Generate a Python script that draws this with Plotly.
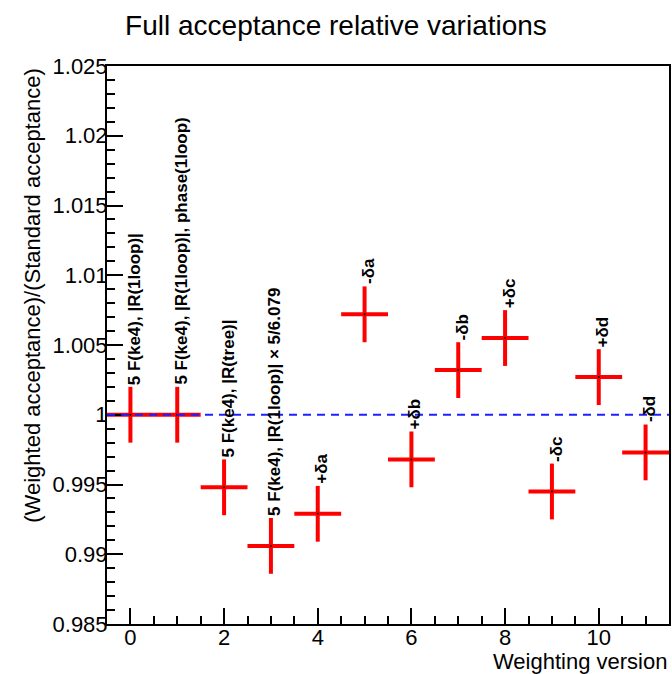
import plotly.graph_objects as go

# Weighting versions and relative acceptance values
versions = [0, 1, 2, 3, 4, 5, 6, 7, 8, 9, 10, 11]
ratios = [1.0000, 1.0000, 0.9948, 0.9906, 0.9929, 1.0072,
          0.9968, 1.0032, 1.0055, 0.9945, 1.0027, 0.9973]
x_err = [0.5] * 12
y_err = [0.002] * 12
point_labels = [
    "5 F(ke4), |R(1loop)|",
    "5 F(ke4), |R(1loop)|, phase(1loop)",
    "5 F(ke4), |R(tree)|",
    "5 F(ke4), |R(1loop)| × 5/6.079",
    "+δa", "-δa", "+δb", "-δb", "+δc", "-δc", "+δd", "-δd",
]
y_tick_vals = [0.985, 0.99, 0.995, 1.0, 1.005, 1.01, 1.015, 1.02, 1.025]
y_tick_text = ["0.985", "0.99", "0.995", "1", "1.005", "1.01", "1.015", "1.02", "1.025"]
x_tick_vals = [0, 2, 4, 6, 8, 10]
reference_level = 1.0

FONT = "Liberation Sans, Arial, Helvetica, sans-serif"

fig = go.Figure()

fig.add_trace(go.Scatter(
    x=versions, y=ratios,
    mode="markers",
    marker=dict(color="black", size=2),
    error_x=dict(type="data", array=x_err, color="#ff0000", thickness=4, width=0),
    error_y=dict(type="data", array=y_err, color="#ff0000", thickness=4, width=0),
    showlegend=False,
    hoverinfo="skip",
))

# dashed reference line at unity
fig.add_shape(type="line", xref="x", yref="y",
              x0=-0.5, x1=11.5, y0=reference_level, y1=reference_level,
              line=dict(color="#2020ff", width=2, dash="8px,6px"), layer="above")

# rotated labels above each point
for xv, yv, ye, txt in zip(versions, ratios, y_err, point_labels):
    fig.add_annotation(x=xv, y=yv + ye, xref="x", yref="y",
                       text=txt, textangle=-90, showarrow=False,
                       xanchor="center", yanchor="bottom", xshift=4, yshift=0,
                       font=dict(family=FONT, size=17, color="black", weight="bold"))

# y axis title aligned to the top of the frame
fig.add_annotation(x=-0.133, y=1.0, xref="paper", yref="paper",
                   text="(Weighted acceptance)/(Standard acceptance)",
                   textangle=-90, showarrow=False, xanchor="center", yanchor="top",
                   font=dict(family=FONT, size=22, color="black"))

# x axis title aligned to the right edge
fig.add_annotation(x=1.0, y=-0.042, xref="paper", yref="paper",
                   text="Weighting version", showarrow=False,
                   xanchor="right", yanchor="top",
                   font=dict(family=FONT, size=22, color="black"))

fig.update_layout(
    width=672, height=674,
    margin=dict(l=107, r=1, t=66, b=50),
    paper_bgcolor="white", plot_bgcolor="white",
    title=dict(text="Full acceptance relative variations", x=0.5, xref="container",
               xanchor="center", y=0.962, yanchor="middle",
               font=dict(family=FONT, size=28, color="black")),
    font=dict(family=FONT, color="black"),
)

fig.update_xaxes(
    range=[-0.5, 11.5], tickvals=x_tick_vals, ticks="inside", ticklen=16, tickwidth=2,
    tickcolor="black", showgrid=False, zeroline=False,
    showline=True, linecolor="black", linewidth=2, mirror=True,
    tickfont=dict(family=FONT, size=22, color="black"), ticklabelstandoff=-7,
    minor=dict(dtick=0.5, tick0=0, ticks="inside", ticklen=8, tickwidth=2,
               tickcolor="black", showgrid=False),
)
fig.update_yaxes(
    range=[0.985, 1.025], tickvals=y_tick_vals, ticktext=y_tick_text,
    ticks="inside", ticklen=16, tickwidth=2,
    tickcolor="black", showgrid=False, zeroline=False,
    showline=True, linecolor="black", linewidth=2, mirror=True,
    tickfont=dict(family=FONT, size=22, color="black"), ticklabelstandoff=-7,
    minor=dict(dtick=0.001, tick0=0.985, ticks="inside", ticklen=8, tickwidth=2,
               tickcolor="black", showgrid=False),
)

fig.write_html("out.html")
